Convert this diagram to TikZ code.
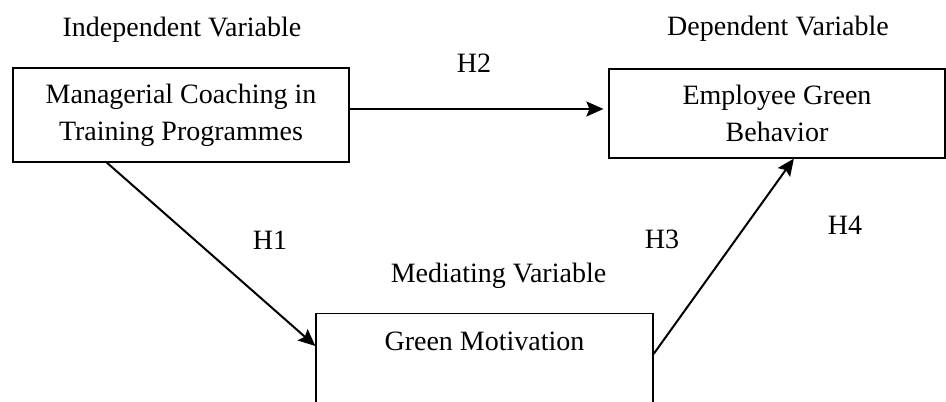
\documentclass[tikz,border=0pt]{standalone}
\usepackage{fontspec}
\setmainfont{Liberation Serif}
\usetikzlibrary{arrows.meta,calc}

\begin{document}
\begin{tikzpicture}[x=0.5pt, y=-0.5pt, >={Stealth[length=8.5pt, width=7.5pt, inset=1.5pt]},
    every node/.style={font=\fontsize{14pt}{18.5pt}\selectfont},
    varbox/.style={draw, line width=0.6pt, inner sep=0pt, align=center},
    varlabel/.style={anchor=base, inner sep=0pt},
    hyparrow/.style={->, line width=1pt}]

    % --- Page frame ---
    \useasboundingbox (0,0) rectangle (946,401);
    \clip (0,0) rectangle (946,401);

    % --- 1. Variable Boxes ---
    \node[varbox, minimum width=168pt, minimum height=47pt] (Coaching) at (181,115)
        {Managerial Coaching in\\Training Programmes};
    \node[varbox, minimum width=168pt, minimum height=44.5pt] (Behavior) at (777,113.5)
        {Employee Green\\Behavior};
    % Mediator box runs past the lower edge
    \node[varbox, minimum width=168.5pt, text height=18.5pt, text depth=45pt, anchor=north]
        (Motivation) at (484.5,313) {Green Motivation};

    % --- 2. Variable Roles ---
    \node[varlabel] (IndepLabel) at (182,37) {Independent Variable};
    \node[varlabel] (DepLabel) at (778,36) {Dependent Variable};
    \node[varlabel] (MedLabel) at (498.5,282) {Mediating Variable};

    % --- 3. Hypothesis Paths ---
    \draw[hyparrow, shorten >=2.5pt] ([yshift=3pt]Coaching.east) -- ([yshift=3pt]Coaching.east -| Behavior.west);
    \draw[hyparrow] ($(Coaching.south west)!0.28!(Coaching.south east)$) -- ([yshift=-16.5pt]Motivation.north west);
    \draw[hyparrow] ([yshift=-20.5pt]Motivation.north east) -- ($(Behavior.south west)!0.55!(Behavior.south east)$);

    % --- 4. Hypothesis Labels ---
    \node[varlabel] (HOne) at (270,249) {H1};
    \node[varlabel] (HTwo) at (474,73) {H2};
    \node[varlabel] (HThree) at (662,248) {H3};
    \node[varlabel] (HFour) at (845,234) {H4};

\end{tikzpicture}
\end{document}
